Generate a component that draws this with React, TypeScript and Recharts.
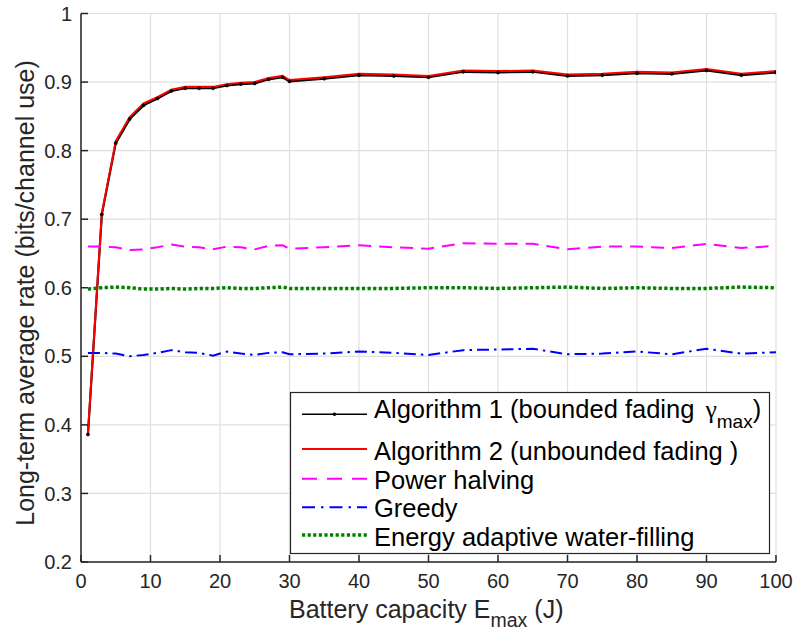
import React from 'react';
import { LineChart, Line, XAxis, YAxis, CartesianGrid } from 'recharts';

const capacity = [1, 3, 5, 7, 9, 11, 13, 15, 17, 19, 21, 23, 25, 27, 29, 30, 35, 40, 45, 50, 55, 60, 65, 70, 75, 80, 85, 90, 95, 100];
const algorithm1 = [0.386, 0.707, 0.811, 0.846, 0.866, 0.876, 0.887, 0.891, 0.891, 0.891, 0.895, 0.897, 0.898, 0.904, 0.907, 0.901, 0.905, 0.910, 0.909, 0.907, 0.915, 0.914, 0.915, 0.909, 0.910, 0.913, 0.912, 0.917, 0.910, 0.914];
const algorithm2 = [0.388, 0.709, 0.814, 0.849, 0.869, 0.878, 0.889, 0.893, 0.893, 0.893, 0.897, 0.899, 0.900, 0.906, 0.909, 0.903, 0.907, 0.912, 0.911, 0.909, 0.917, 0.916, 0.917, 0.911, 0.912, 0.915, 0.914, 0.919, 0.912, 0.916];
const powerHalving = [0.660, 0.660, 0.659, 0.655, 0.656, 0.659, 0.663, 0.660, 0.659, 0.656, 0.660, 0.659, 0.656, 0.661, 0.662, 0.657, 0.659, 0.662, 0.659, 0.657, 0.665, 0.664, 0.664, 0.656, 0.660, 0.660, 0.658, 0.664, 0.658, 0.661];
const greedy = [0.505, 0.505, 0.504, 0.500, 0.502, 0.505, 0.509, 0.506, 0.505, 0.501, 0.507, 0.504, 0.502, 0.505, 0.506, 0.503, 0.504, 0.507, 0.505, 0.502, 0.509, 0.510, 0.511, 0.503, 0.504, 0.507, 0.503, 0.511, 0.504, 0.506];
const waterFilling = [0.598, 0.600, 0.601, 0.600, 0.598, 0.598, 0.599, 0.598, 0.599, 0.599, 0.600, 0.599, 0.599, 0.600, 0.601, 0.599, 0.599, 0.599, 0.599, 0.600, 0.600, 0.599, 0.600, 0.601, 0.599, 0.600, 0.599, 0.599, 0.601, 0.600];

const xTicks = [0, 10, 20, 30, 40, 50, 60, 70, 80, 90, 100];
const yTicks = [0.2, 0.3, 0.4, 0.5, 0.6, 0.7, 0.8, 0.9, 1];

const legendLabels = [
  'Algorithm 1 (bounded fading ',
  'Algorithm 2 (unbounded fading )',
  'Power halving',
  'Greedy',
  'Energy adaptive water-filling',
];

const data = capacity.map((x, i) => ({
  x,
  a1: algorithm1[i],
  a2: algorithm2[i],
  ph: powerHalving[i],
  gr: greedy[i],
  wf: waterFilling[i],
}));

const FONT = "'Liberation Sans', Arial, Helvetica, sans-serif";
const AXIS = '#262626';
const tickStyle = { fill: AXIS, fontSize: 20, fontFamily: FONT };
const fmtY = (v: number) => String(Number(v.toFixed(1)));
const blank = () => '';

export default function App() {
  return (
    <div style={{ position: 'absolute', left: 0, top: 0, width: 796, height: 634, background: '#fff' }}>
      <LineChart width={796} height={634} data={data} margin={{ top: 13.5, right: 20, bottom: 0, left: 0 }}>
        <CartesianGrid stroke="#dfdfdf" strokeWidth={1.2} horizontalValues={yTicks} verticalValues={xTicks} />
        <XAxis
          dataKey="x"
          type="number"
          domain={[0, 100]}
          ticks={xTicks}
          height={72}
          tickSize={-7}
          tickMargin={19}
          tick={tickStyle}
          axisLine={{ stroke: AXIS, strokeWidth: 1.5 }}
          tickLine={{ stroke: AXIS, strokeWidth: 1.5 }}
          allowDataOverflow
          interval={0}
        />
        <XAxis
          xAxisId="top"
          orientation="top"
          dataKey="x"
          type="number"
          domain={[0, 100]}
          ticks={xTicks}
          height={0}
          tickSize={-7}
          tickFormatter={blank}
          axisLine={{ stroke: AXIS, strokeWidth: 1.5 }}
          tickLine={{ stroke: AXIS, strokeWidth: 1.5 }}
          allowDataOverflow
          interval={0}
        />
        <YAxis
          type="number"
          domain={[0.2, 1]}
          ticks={yTicks}
          width={81}
          tickSize={-7}
          tickMargin={16}
          tick={tickStyle}
          tickFormatter={fmtY}
          axisLine={{ stroke: AXIS, strokeWidth: 1.5 }}
          tickLine={{ stroke: AXIS, strokeWidth: 1.5 }}
          allowDataOverflow
          interval={0}
        />
        <YAxis
          yAxisId="right"
          orientation="right"
          type="number"
          domain={[0.2, 1]}
          ticks={yTicks}
          width={0}
          tickSize={-7}
          tickFormatter={blank}
          axisLine={{ stroke: AXIS, strokeWidth: 1.5 }}
          tickLine={{ stroke: AXIS, strokeWidth: 1.5 }}
          allowDataOverflow
          interval={0}
        />
        <Line dataKey="a1" stroke="#000000" strokeWidth={2.2} dot={{ r: 1.6, fill: '#000', stroke: '#000', strokeWidth: 0.5 }} isAnimationActive={false} />
        <Line dataKey="a2" stroke="#ff0000" strokeWidth={2} dot={false} isAnimationActive={false} />
        <Line dataKey="ph" stroke="#ff00ff" strokeWidth={2} strokeDasharray="13 8" dot={false} isAnimationActive={false} />
        <Line dataKey="gr" stroke="#0000ff" strokeWidth={2} strokeDasharray="12 5 2.5 5" dot={false} isAnimationActive={false} />
        <Line dataKey="wf" stroke="#008000" strokeWidth={3.5} strokeDasharray="3.2 2.4" dot={false} isAnimationActive={false} />
      </LineChart>
      <svg width={796} height={634} style={{ position: 'absolute', left: 0, top: 0, pointerEvents: 'none' }}>
        <g fontFamily={FONT} fill={AXIS}>
          <text x={289} y={618} fontSize={25}>
            Battery capacity E
            <tspan fontSize={19.5} dy={9}>max</tspan>
            <tspan dy={-9} dx={7}>(J)</tspan>
          </text>
          <text transform="translate(34,293) rotate(-90)" textAnchor="middle" fontSize={25}>
            Long-term average rate (bits/channel use)
          </text>
        </g>
        <rect x={290.5} y={392.5} width={479} height={161} fill="#fff" stroke={AXIS} strokeWidth={1.2} />
        <g>
          <line x1={302} x2={367} y1={414.3} y2={414.3} stroke="#000" strokeWidth={1.5} />
          <circle cx={334.5} cy={414.3} r={1.8} fill="#000" />
          <line x1={302} x2={367} y1={449} y2={449} stroke="#ff0000" strokeWidth={2} />
          <line x1={302} x2={367} y1={478.7} y2={478.7} stroke="#ff00ff" strokeWidth={2} strokeDasharray="15 10" />
          <line x1={302} x2={367} y1={507.3} y2={507.3} stroke="#0000ff" strokeWidth={2} strokeDasharray="13 6 2.5 6" />
          <line x1={302} x2={367} y1={535} y2={535} stroke="#008000" strokeWidth={3.5} strokeDasharray="3.2 2.4" />
        </g>
        <g fontFamily={FONT} fontSize={25.5} fill="#000">
          <text x={374} y={418.3}>
            {legendLabels[0]}
            <tspan fontFamily="'Liberation Serif', serif" dx={4}>γ</tspan>
            <tspan fontSize={19} dy={10}>max</tspan>
            <tspan dy={-10}>)</tspan>
          </text>
          <text x={374} y={460}>{legendLabels[1]}</text>
          <text x={374} y={489.3}>{legendLabels[2]}</text>
          <text x={374} y={517.3}>{legendLabels[3]}</text>
          <text x={374} y={545.7}>{legendLabels[4]}</text>
        </g>
      </svg>
    </div>
  );
}
